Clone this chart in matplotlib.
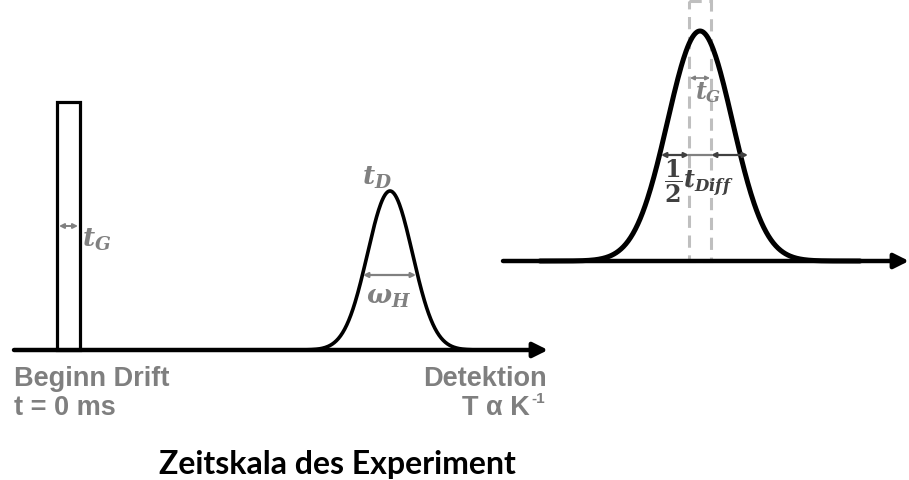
import matplotlib.pyplot as plt
import numpy as np
from matplotlib.patches import Rectangle

plt.rcParams["mathtext.fontset"] = "custom"
plt.rcParams["mathtext.rm"] = "DejaVu Serif:bold"
plt.rcParams["mathtext.it"] = "DejaVu Serif:italic:bold"
plt.rcParams["mathtext.bf"] = "DejaVu Serif:bold"

# layout in pixel units of the 909 x 481 canvas
base_left = 351          # baseline of the drift-time axis
base_right = 262         # baseline of the zoomed peak
axis_left = (14, 548)
axis_right = (503, 909)

# gate pulse (left)
pulse_x = (57, 80)
pulse_top = 103

# arrival-time peak (left) and zoomed peak (right): centre, height, sigma
peak_left = dict(center=390, height=159, sigma=22.5, span=(253, 530))
peak_right = dict(center=700, height=230, sigma=32.5, span=(540, 860))

# gate window drawn inside the zoomed peak
gate_x = (689, 711)

grey = "#808080"
dark = "#404040"


def gauss(p):
    x = np.linspace(p["span"][0], p["span"][1], 400)
    return x, p["height"] * np.exp(-0.5 * ((x - p["center"]) / p["sigma"]) ** 2)


def dbl_arrow(ax, x0, x1, y, color, lw=1.5, ms=7):
    ax.annotate("", xy=(x0, y), xytext=(x1, y),
                arrowprops=dict(arrowstyle="<|-|>", lw=lw, color=color, mutation_scale=ms,
                                shrinkA=0, shrinkB=0))


fig = plt.figure(figsize=(9.09, 4.81), dpi=100)
ax = fig.add_axes([0, 0, 1, 1])
ax.set_xlim(0, 909)
ax.set_ylim(481, 0)
ax.axis("off")

# axes with arrow heads
for (xa, xb), yb in [(axis_left, base_left), (axis_right, base_right)]:
    ax.annotate("", xy=(xb, yb), xytext=(xa, yb),
                arrowprops=dict(arrowstyle="-|>", lw=3.2, color="black", mutation_scale=22,
                                shrinkA=0, shrinkB=0, capstyle="round"))

# gate pulse
ax.add_patch(Rectangle((pulse_x[0], pulse_top), pulse_x[1] - pulse_x[0],
                       base_left - pulse_top, fill=False, lw=2.3, ec="black"))
dbl_arrow(ax, pulse_x[0] + 2, pulse_x[1] - 2, 227, grey, lw=1.4)
ax.text(82, 240, r"$t_G$", fontsize=19, color=grey, va="center", ha="left")

# left peak
x, y = gauss(peak_left)
ax.plot(x, base_left - y, color="black", lw=2.6, solid_capstyle="round")
dbl_arrow(ax, 363, 416, 276, grey, lw=1.6)
ax.text(377, 178, r"$t_D$", fontsize=19, color=grey, ha="center", va="center")
ax.text(389, 297, r"$\omega_H$", fontsize=19, color=grey, ha="center", va="center")

# right peak
x, y = gauss(peak_right)
ax.plot(x, base_right - y, color="black", lw=3.6, solid_capstyle="round")

# gate window
ax.add_patch(Rectangle((gate_x[0], 2), gate_x[1] - gate_x[0], base_right - 2,
                       fill=False, lw=2.2, ec="#bfbfbf", ls=(0, (4, 2.5))))
dbl_arrow(ax, gate_x[0] + 1, gate_x[1] - 1, 79, grey, lw=1.2, ms=6)
ax.text(708, 93, r"$t_G$", fontsize=17, color=grey, ha="center", va="center")

# half diffusion width arrows
dbl_arrow(ax, 661, 689, 156, dark, lw=1.6)
ax.plot([689, 711], [156, 156], color=grey, lw=1.6)
dbl_arrow(ax, 711, 748, 156, dark, lw=1.6)
ax.text(664, 181, r"$\dfrac{1}{2}t_{Diff}$", fontsize=17, color=dark, ha="left", va="center")

# labels
lab = dict(family="Liberation Sans", fontweight="bold", fontsize=19.5, color="#7f7f7f")
ax.text(14, 379, "Beginn Drift", ha="left", va="center", **lab)
ax.text(14, 408, "t = 0 ms", ha="left", va="center", **lab)
ax.text(547, 379, "Detektion", ha="right", va="center", **lab)
ax.text(530, 408, "T α K", ha="right", va="center", **lab)
ax.text(531, 399, "-1", ha="left", va="center", family="Liberation Sans",
        fontweight="bold", fontsize=11, color="#7f7f7f")
ax.text(337, 465, "Zeitskala des Experiment", ha="center", va="center",
        family="Lato", fontweight="bold", fontsize=23, color="black")

fig.savefig("out.png", dpi=100)
